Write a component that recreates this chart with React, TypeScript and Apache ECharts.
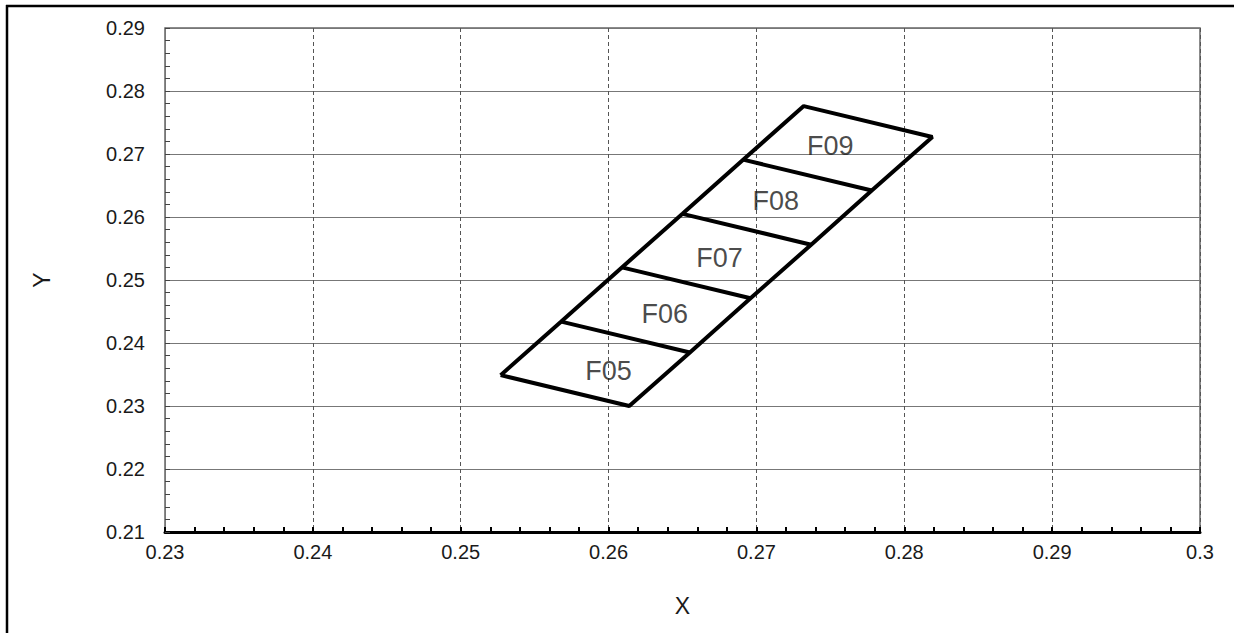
import React, { useEffect, useRef } from "react";
import * as echarts from "echarts";

// Left edge points of the strip (bottom to top)
const leftEdge: [number, number][] = [
  [0.2527, 0.2349],
  [0.2568, 0.2434],
  [0.2609, 0.252],
  [0.265, 0.2605],
  [0.2691, 0.2691],
  [0.2732, 0.2776],
];
// Right edge points of the strip (bottom to top)
const rightEdge: [number, number][] = [
  [0.2614, 0.23],
  [0.2655, 0.2385],
  [0.2696, 0.2471],
  [0.2737, 0.2556],
  [0.2778, 0.2642],
  [0.2819, 0.2727],
];
const cellNames = ["F05", "F06", "F07", "F08", "F09"];
const labelPoints: [number, number][] = [
  [0.26, 0.2356],
  [0.2638, 0.2446],
  [0.2675, 0.2535],
  [0.2713, 0.2625],
  [0.275, 0.2713],
];

const FONT = "'Liberation Sans', Arial, sans-serif";

export default function App() {
  const ref = useRef<HTMLDivElement>(null);
  useEffect(() => {
    if (!ref.current) return;
    const chart = echarts.init(ref.current, undefined, { renderer: "svg" });
    const outline = [
      ...leftEdge,
      ...rightEdge.slice().reverse(),
      leftEdge[0],
    ];
    const lineStyle = { color: "#000", width: 4 };
    const series: any[] = [
      {
        type: "line",
        data: outline,
        symbol: "none",
        lineStyle,
        z: 5,
      },
    ];
    for (let i = 1; i < leftEdge.length - 1; i++) {
      series.push({
        type: "line",
        data: [leftEdge[i], rightEdge[i]],
        symbol: "none",
        lineStyle,
        z: 5,
      });
    }
    series.push({
      type: "scatter",
      symbolSize: 0,
      data: labelPoints.map((p, i) => ({ value: p, name: cellNames[i] })),
      label: {
        show: true,
        position: "inside",
        formatter: (p: any) => p.name,
        fontSize: 27,
        color: "#1a1a1a",
        fontFamily: FONT,
      },
      z: 6,
    });
    chart.setOption({
      animation: false,
      backgroundColor: "#fff",
      grid: {
        left: 165,
        top: 28,
        width: 1035,
        height: 504,
        show: true,
        borderColor: "#666",
        borderWidth: 1.5,
      },
      xAxis: {
        type: "value",
        min: 0.23,
        max: 0.3,
        interval: 0.01,
        name: "X",
        nameLocation: "middle",
        nameGap: 62,
        nameTextStyle: { fontSize: 23, color: "#1a1a1a", fontFamily: FONT },
        axisLine: { show: true, onZero: false, lineStyle: { color: "#000", width: 3 } },
        axisTick: { show: true, inside: true, length: 5, lineStyle: { color: "#000", width: 2 } },
        minorTick: { show: true, splitNumber: 5, length: 5, lineStyle: { color: "#000", width: 2 } },
        axisLabel: { margin: 10, fontSize: 20, color: "#1a1a1a", fontFamily: FONT },
        splitLine: { show: true, lineStyle: { color: "#555", width: 1, type: [4, 3] } },
      },
      yAxis: {
        type: "value",
        min: 0.21,
        max: 0.29,
        interval: 0.01,
        name: "Y",
        nameLocation: "middle",
        nameRotate: 90,
        nameGap: 112,
        nameTextStyle: { fontSize: 23, color: "#1a1a1a", fontFamily: FONT },
        axisLine: { show: true, onZero: false, lineStyle: { color: "#777", width: 1 } },
        axisTick: { show: true, inside: true, length: 5, lineStyle: { color: "#444", width: 1 } },
        minorTick: { show: true, splitNumber: 5, length: 5, lineStyle: { color: "#444", width: 1 } },
        axisLabel: { margin: 20, fontSize: 20, color: "#1a1a1a", fontFamily: FONT },
        splitLine: { show: true, lineStyle: { color: "#777", width: 1.2 } },
      },
      graphic: [
        { type: "line", shape: { x1: 6, y1: 6, x2: 1234, y2: 6 }, style: { stroke: "#000", lineWidth: 2.5 }, z: 10 },
        { type: "line", shape: { x1: 7, y1: 5, x2: 7, y2: 633 }, style: { stroke: "#000", lineWidth: 2.5 }, z: 10 },
      ],
      series,
    });
    return () => chart.dispose();
  }, []);
  return (
    <div
      ref={ref}
      style={{ position: "fixed", left: 0, top: 0, width: 1234, height: 633 }}
    />
  );
}
